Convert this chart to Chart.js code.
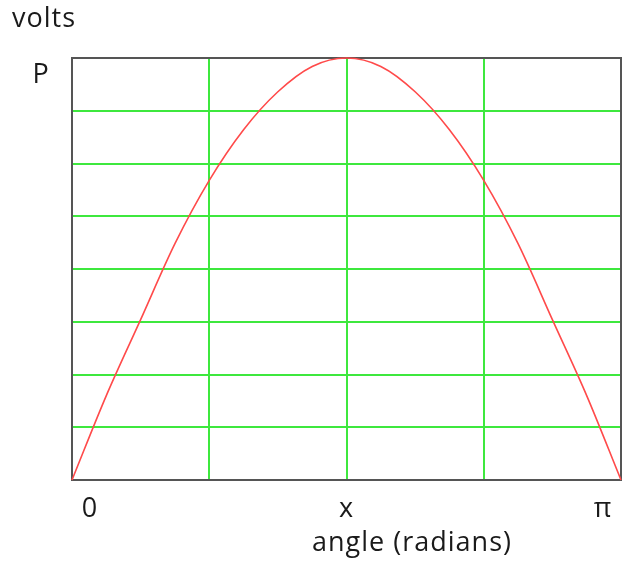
<!DOCTYPE html>
<html>
<head>
<meta charset="utf-8">
<script src="https://cdn.jsdelivr.net/npm/chart.js@4.4.1/dist/chart.umd.min.js"></script>
<style>
  html, body { margin: 0; padding: 0; background: #fff; }
  #wrap { width: 624px; height: 563px; }
</style>
</head>
<body>
<div id="wrap"><canvas id="sine-plot"></canvas></div>
<script>
// sixteenths of a half period, 0 .. pi
const steps = [0, 1, 2, 3, 4, 5, 6, 7, 8, 9, 10, 11, 12, 13, 14, 15, 16];
// voltage as a fraction of the peak P
const volts = [0, 0.2, 0.38, 0.56, 0.71, 0.83, 0.92, 0.98, 1, 0.98, 0.92, 0.83, 0.71, 0.56, 0.38, 0.2, 0];
const xLabels = ["0", "x", "π"];
const xLabelAt = [0, 8, 16];

const FONT = "'Open Sans', 'Liberation Sans', sans-serif";

// frame around the plot plus the hand-placed labels
const framePlugin = {
    id: 'frame',
    beforeDatasetsDraw(chart) {
        const a = chart.chartArea;
        const ctx = chart.ctx;
        ctx.save();
        ctx.strokeStyle = '#555555';
        ctx.lineWidth = 2;
        ctx.strokeRect(a.left, a.top, a.right - a.left, a.bottom - a.top);
        ctx.restore();
    },
    afterDraw(chart) {
        const a = chart.chartArea;
        const ctx = chart.ctx;
        const xs = chart.scales.x;
        ctx.save();
        ctx.fillStyle = '#1a1a1a';
        ctx.font = '27px ' + FONT;
        ctx.letterSpacing = '1px';
        ctx.textBaseline = 'middle';
        ctx.textAlign = 'left';
        ctx.fillText('volts', 12, 19);
        ctx.textAlign = 'center';
        ctx.fillText('P', 41, 75);
        // tick names sit slightly inside the frame at both ends
        const nudge = [18, 0, -18];
        xLabels.forEach((t, i) => {
            ctx.fillText(t, xs.getPixelForValue(xLabelAt[i]) + nudge[i], a.bottom + 29);
        });
        ctx.fillText('angle (radians)', 412, a.bottom + 63);
        ctx.restore();
    }
};

new Chart('sine-plot', {
    type: 'line',
    data: {
        datasets: [{
            data: steps.map((s, i) => ({ x: s, y: volts[i] })),
            borderColor: '#ff4a4a',
            borderWidth: 1.6,
            pointRadius: 0,
            tension: 0.4,
            cubicInterpolationMode: 'monotone',
            clip: false
        }]
    },
    options: {
        responsive: true,
        maintainAspectRatio: false,
        animation: false,
        layout: { padding: { left: 72, right: 3, top: 58, bottom: 83 } },
        plugins: {
            legend: { display: false },
            tooltip: { enabled: false }
        },
        scales: {
            x: {
                type: 'linear',
                min: 0,
                max: 16,
                ticks: { display: false, stepSize: 4 },
                grid: { color: '#3ee83e', lineWidth: 2, drawTicks: false },
                border: { display: false }
            },
            y: {
                min: 0,
                max: 1,
                ticks: { display: false, stepSize: 0.125 },
                grid: { color: '#3ee83e', lineWidth: 2, drawTicks: false },
                border: { display: false }
            }
        }
    },
    plugins: [framePlugin]
});
</script>
</body>
</html>
